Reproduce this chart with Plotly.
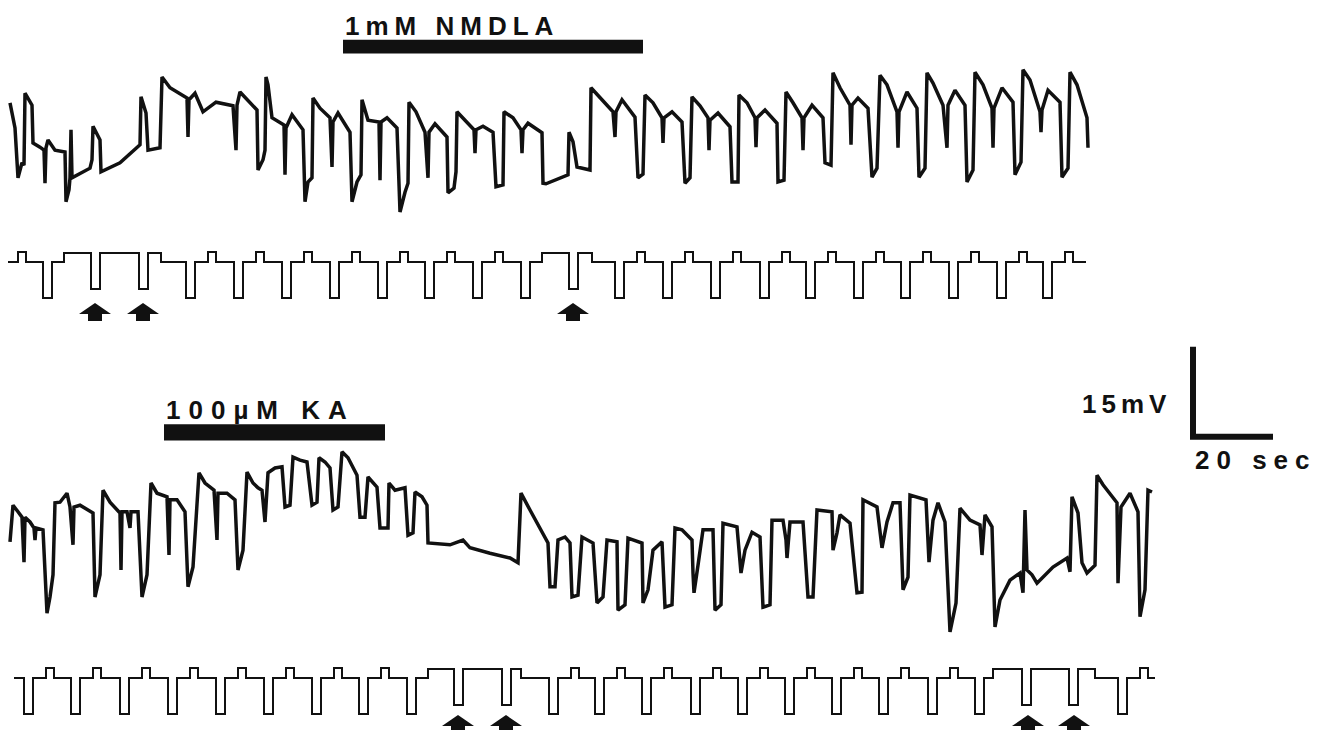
import plotly.graph_objects as go

# ---------------- data ----------------
# upper record: membrane potential (mV, relative) vs time (s)
TOP_T = [0, 1.25, 2.0, 3.0, 3.5, 3.75, 5.5, 5.75, 7.5, 8.5,
         8.75, 9.0, 9.5, 11.25, 13.75, 14.0, 14.75, 15.0, 15.25, 15.5,
         20.0, 20.5, 20.75, 22.5, 22.75, 27.5, 32.5, 32.75, 34.0, 34.5,
         37.5, 38.0, 40.0, 44.25, 44.5, 44.75, 46.25, 48.25, 51.5, 55.75,
         56.5, 56.75, 57.5, 61.75, 62.0, 63.25, 63.75, 64.0, 64.5, 65.5,
         68.5, 68.75, 69.0, 70.5, 73.25, 73.75, 74.5, 75.5, 75.75, 77.5,
         80.0, 80.5, 80.75, 82.0, 85.0, 85.5, 86.75, 87.75, 88.0, 89.5,
         92.25, 92.5, 92.75, 94.25, 96.75, 97.5, 98.75, 99.5, 99.75, 101.5,
         103.75, 104.5, 104.75, 106.25, 109.25, 109.5, 111.0, 111.5, 111.75, 114.25,
         116.0, 116.25, 116.5, 118.25, 120.75, 121.5, 123.25, 123.5, 125.75, 127.75,
         128.0, 128.25, 129.5, 133.0, 133.25, 134.0, 139.5, 139.75, 140.75, 141.75,
         145.0, 145.25, 147.5, 150.75, 151.25, 151.5, 153.0, 156.25, 157.0, 158.25,
         158.75, 160.75, 163.0, 163.25, 163.5, 165.5, 168.0, 168.75, 170.0, 170.5,
         172.5, 174.5, 174.75, 175.0, 177.0, 180.0, 180.5, 182.0, 182.25, 184.25,
         186.25, 186.5, 186.75, 188.75, 191.75, 192.0, 193.5, 194.0, 195.75, 198.0,
         198.25, 198.5, 200.5, 203.25, 203.75, 205.25, 205.75, 207.5, 210.0, 210.25,
         210.5, 212.0, 214.5, 215.5, 216.75, 217.5, 219.25, 221.75, 222.0, 222.25,
         224.25, 226.75, 227.25, 228.75, 229.25, 230.75, 233.25, 234.25, 234.5, 236.25,
         238.75, 239.25, 240.75, 241.25, 243.25, 245.5, 245.75, 246.0, 248.0, 250.75,
         251.25, 252.75, 253.25, 255.0, 257.5, 257.75, 258.0, 259.5, 262.5, 263.0,
         264.5, 265.0, 266.75, 269.25, 269.5]
TOP_MV = [16.2, 12.0, 3.7, 6.2, 5.8, 17.8, 15.8, 9.5, 8.8, 8.3,
          2.8, 8.7, 10.0, 8.3, 8.0, -0.3, 1.7, 3.7, 11.7, 3.7,
          5.3, 6.7, 12.3, 10.0, 4.7, 6.2, 9.2, 17.2, 14.5, 8.3,
          8.7, 20.5, 18.7, 17.0, 10.5, 16.7, 17.8, 14.7, 16.3, 15.7,
          8.3, 15.8, 18.0, 15.0, 5.0, 6.7, 8.3, 20.5, 19.2, 13.7,
          12.5, 4.2, 12.0, 14.2, 11.7, -0.3, 3.0, 3.7, 17.0, 15.3,
          13.7, 5.5, 13.0, 14.5, 11.3, -0.3, 3.0, 4.2, 16.7, 13.3,
          13.0, 3.3, 13.0, 13.7, 12.0, -2.0, 1.3, 2.8, 16.3, 14.7,
          11.3, 3.7, 11.3, 12.7, 10.5, 1.2, 2.0, 4.7, 14.7, 13.0,
          11.7, 7.8, 11.7, 12.3, 11.3, 2.2, 2.5, 14.7, 13.7, 11.7,
          7.8, 11.7, 12.8, 11.2, 2.8, 2.7, 4.2, 11.3, 9.7, 5.5,
          5.0, 18.7, 17.0, 14.7, 10.5, 14.7, 16.7, 13.8, 3.7, 4.3,
          17.5, 16.2, 13.7, 9.5, 13.7, 14.7, 13.0, 2.8, 3.7, 17.2,
          15.7, 13.7, 8.3, 13.3, 14.5, 12.2, 3.0, 3.0, 17.5, 16.2,
          13.7, 8.8, 13.7, 15.0, 12.8, 3.0, 3.3, 18.0, 16.2, 13.7,
          8.3, 13.7, 15.8, 13.7, 6.2, 5.8, 21.2, 18.7, 15.8, 9.2,
          15.8, 17.0, 15.3, 3.8, 5.3, 20.8, 19.2, 14.7, 8.7, 14.7,
          18.0, 15.3, 3.8, 5.3, 21.2, 19.5, 15.8, 8.7, 15.8, 18.3,
          15.8, 3.0, 5.0, 21.3, 19.2, 15.3, 8.7, 15.3, 18.7, 16.3,
          4.2, 6.3, 21.7, 20.0, 14.7, 11.3, 15.0, 18.3, 16.3, 3.8,
          5.3, 21.3, 19.2, 13.7, 8.7]

# lower record
BOT_T = [0, 0.75, 2.0, 3.0, 3.5, 3.75, 5.0, 6.0, 6.25, 6.5,
         8.25, 9.25, 10.0, 10.75, 11.25, 12.5, 14.25, 15.0, 15.75, 16.0,
         17.5, 20.75, 21.25, 22.5, 23.25, 25.0, 27.5, 27.75, 28.0, 29.25,
         30.0, 30.25, 32.0, 33.0, 34.25, 35.25, 36.75, 39.25, 39.75, 40.0,
         41.75, 43.75, 44.5, 45.75, 47.25, 48.75, 51.0, 51.75, 52.0, 54.25,
         56.25, 57.0, 58.25, 59.25, 60.75, 62.0, 63.0, 63.75, 64.5, 66.25,
         68.0, 68.75, 70.0, 70.75, 72.5, 74.25, 75.5, 76.75, 77.25, 78.75,
         80.0, 80.75, 82.0, 83.0, 84.5, 86.75, 87.5, 88.75, 89.5, 91.75,
         92.5, 94.5, 94.75, 96.25, 98.75, 99.5, 100.75, 101.25, 103.0, 104.25,
         104.5, 110.0, 113.25, 115.0, 120.0, 125.0, 127.0, 127.75, 130.0, 132.0,
         134.5, 135.0, 136.25, 137.0, 138.75, 140.0, 140.5, 142.0, 143.0, 145.75,
         146.75, 148.25, 149.25, 151.75, 152.0, 153.75, 154.5, 158.0, 158.25, 159.5,
         160.75, 163.0, 163.75, 165.5, 166.25, 168.0, 170.5, 170.75, 171.0, 172.0,
         173.25, 175.75, 176.25, 177.75, 178.25, 181.75, 182.5, 182.75, 183.75, 185.5,
         187.5, 188.25, 190.0, 190.5, 193.25, 194.0, 194.25, 195.0, 198.25, 199.5,
         200.75, 201.75, 205.5, 205.75, 206.75, 207.5, 210.0, 211.75, 213.0, 213.25,
         216.75, 217.5, 218.0, 219.25, 220.75, 222.5, 223.25, 224.5, 225.0, 229.0,
         229.75, 230.75, 232.0, 233.75, 235.0, 236.5, 237.5, 240.0, 242.5, 243.0,
         243.75, 245.5, 246.25, 247.5, 250.0, 252.5, 253.25, 253.75, 254.25, 255.5,
         256.75, 260.75, 264.25, 265.0, 265.5, 267.0, 268.0, 269.25, 271.25, 271.75,
         273.25, 276.75, 277.0, 277.75, 280.0, 282.0, 282.5, 283.75, 284.25, 284.5, 285.5]
BOT_MV = [9.7, 15.8, 14.7, 13.8, 6.3, 13.8, 13.0, 12.0, 10.0, 12.0,
          11.7, -2.2, 0.5, 4.2, 16.2, 16.3, 17.8, 15.5, 9.2, 15.5,
          15.8, 14.5, 0.5, 4.2, 18.3, 16.3, 14.5, 5.0, 14.7, 14.7,
          12.0, 14.7, 14.7, 0.5, 4.2, 19.5, 17.8, 17.2, 7.5, 16.7,
          16.7, 14.7, 2.2, 5.5, 21.2, 19.5, 18.3, 10.0, 17.8, 17.8,
          16.7, 5.0, 8.3, 21.3, 19.5, 18.7, 18.3, 13.0, 21.2, 22.0,
          22.2, 15.5, 15.8, 23.8, 23.3, 23.0, 15.8, 16.3, 23.7, 23.0,
          22.0, 15.0, 15.5, 24.7, 23.7, 20.8, 13.8, 13.8, 20.5, 18.8,
          12.0, 12.0, 19.5, 18.3, 18.7, 10.8, 11.2, 18.0, 17.2, 15.8,
          9.5, 9.2, 10.0, 8.7, 7.8, 7.0, 6.2, 17.8, 15.0, 12.5,
          9.5, 2.2, 2.2, 10.0, 10.5, 9.5, 0.5, 0.8, 10.5, 9.5,
          -0.5, 0.5, 10.0, 9.7, -1.7, -0.8, 10.3, 9.5, -0.5, 1.7,
          8.3, 9.7, -1.2, -0.8, 12.0, 11.7, 10.0, 4.5, 1.2, 5.8,
          11.7, 11.7, -1.7, -0.8, 12.8, 12.2, 7.2, 4.5, 8.3, 11.3,
          10.5, -1.2, -0.8, 13.3, 13.3, 10.0, 7.0, 13.0, 13.0, 0.5,
          0.5, 15.0, 14.7, 8.3, 11.2, 14.2, 12.8, 1.2, 1.3, 16.7,
          15.5, 11.7, 8.7, 13.0, 16.2, 16.2, 1.7, 3.8, 17.5, 16.7,
          6.3, 13.3, 16.2, 13.0, -5.3, -0.5, 15.3, 13.3, 12.5, 7.5,
          14.2, 12.2, -4.5, 0.0, 3.3, 4.5, 1.2, 15.0, 5.0, 4.2,
          2.8, 5.5, 7.0, 4.7, 17.2, 14.5, 6.2, 4.5, 5.8, 20.8,
          19.2, 16.2, 2.8, 15.5, 17.8, 14.7, -2.8, 1.7, 11.7, 18.3, 18.0]

# current-injection protocol (s): pulse onsets, held (depolarised) periods
STIM_TOP_PULSES = [8.25, 20.25, 32.25, 44.0, 56.0, 68.0, 80.0, 92.0, 103.75, 115.75,
                   127.75, 139.75, 151.25, 163.25, 175.25, 187.5, 199.0, 211.0,
                   222.75, 234.75, 246.75, 258.25]
STIM_TOP_LEAD_BUMPS = [2.0]
STIM_TOP_HELD = [[13.5, 37.75], [133.0, 145.5]]
STIM_TOP_SPAN = [-0.5, 269.0]

STIM_BOT_PULSES = [3.5, 15.25, 27.5, 39.5, 51.5, 63.5, 75.5, 87.25, 99.25, 111.0,
                   123.0, 134.75, 146.25, 158.0, 170.25, 182.0, 193.75, 205.5,
                   217.25, 229.5, 241.25, 253.0, 264.75, 277.0]
STIM_BOT_LEAD_BUMPS = []
STIM_BOT_HELD = [[104.5, 127.75], [245.75, 271.25]]
STIM_BOT_SPAN = [1.0, 286.25]

PULSE_DUR = 2.25      # s
BUMP_DELAY = 5.5      # s after pulse onset
BUMP_DUR = 2.0        # s
PULSE_AMP = 1.8       # nA (hyperpolarising)
BUMP_AMP = 0.5        # nA
HELD_AMP = 0.45       # nA

# arrows (s) marking the test pulses discussed
ARROWS_TOP_T = [21.25, 33.25, 140.75]
ARROWS_BOT_T = [112.0, 124.0, 254.5, 266.0]

# drug applications (s)
NMDLA_T = [83.25, 158.25]
KA_T = [38.5, 93.75]

# calibration
SCALE_T = 20   # s
SCALE_MV = 15  # mV

if len(TOP_T) != len(TOP_MV) or len(BOT_T) != len(BOT_MV):
    raise ValueError(f"length mismatch {len(TOP_T)} {len(TOP_MV)} {len(BOT_T)} {len(BOT_MV)}")

# ---------------- geometry (pixels) ----------------
W, H = 1330, 730
X0_PX = 10
PX_PER_S = 4.0
PX_PER_MV = 6.0
PX_PER_NA = 20.0
TOP_V_REF, TOP_S_REF = 200, 262
BOT_V_REF, BOT_S_REF = 600, 678
INK = "#111111"


def yrange(ref_px, px_per_unit):
    return [(ref_px - H) / px_per_unit, ref_px / px_per_unit]


def stim_wave(span, pulses, lead_bumps, held):
    t0, t1 = span
    bumps = list(lead_bumps) + [p + BUMP_DELAY for p in pulses]
    bumps = [b for b in bumps
             if b < t1 and not any(hs - 0.3 <= b <= he + 1.0 for hs, he in held)]
    edges = {t0, t1}
    for p in pulses:
        edges |= {p, p + PULSE_DUR}
    for b in bumps:
        edges |= {b, b + BUMP_DUR}
    for hs, he in held:
        edges |= {hs, he}
    edges = sorted(e for e in edges if t0 <= e <= t1)

    def level(t):
        lv = 0.0
        if any(hs <= t < he for hs, he in held):
            lv += HELD_AMP
        if any(b <= t < b + BUMP_DUR for b in bumps):
            lv += BUMP_AMP
        if any(p <= t < p + PULSE_DUR for p in pulses):
            lv -= PULSE_AMP
        return lv

    xs, ys = [], []
    for a, b in zip(edges[:-1], edges[1:]):
        lv = level((a + b) / 2)
        xs += [a, b]
        ys += [lv, lv]
    return xs, ys


fig = go.Figure()

fig.add_trace(go.Scatter(x=TOP_T, y=TOP_MV, mode="lines", xaxis="x", yaxis="y",
                         line=dict(color=INK, width=3.5)))
sx, sy = stim_wave(STIM_TOP_SPAN, STIM_TOP_PULSES, STIM_TOP_LEAD_BUMPS, STIM_TOP_HELD)
fig.add_trace(go.Scatter(x=sx, y=sy, mode="lines", xaxis="x", yaxis="y2",
                         line=dict(color=INK, width=2)))
fig.add_trace(go.Scatter(x=BOT_T, y=BOT_MV, mode="lines", xaxis="x", yaxis="y3",
                         line=dict(color=INK, width=3.5)))
sx, sy = stim_wave(STIM_BOT_SPAN, STIM_BOT_PULSES, STIM_BOT_LEAD_BUMPS, STIM_BOT_HELD)
fig.add_trace(go.Scatter(x=sx, y=sy, mode="lines", xaxis="x", yaxis="y4",
                         line=dict(color=INK, width=2)))

# calibration bars on the lower record's axes
SB_T0, SB_V0 = 295.75, 27.2
fig.add_trace(go.Scatter(x=[SB_T0, SB_T0, SB_T0 + SCALE_T],
                         y=[SB_V0 + SCALE_MV, SB_V0, SB_V0],
                         mode="lines", xaxis="x", yaxis="y3",
                         line=dict(color=INK, width=6)))

shapes = []
# drug bars
shapes.append(dict(type="rect", xref="x", yref="y", x0=NMDLA_T[0], x1=NMDLA_T[1],
                   y0=24.4, y1=26.7, fillcolor=INK, line=dict(width=0)))
shapes.append(dict(type="rect", xref="x", yref="y3", x0=KA_T[0], x1=KA_T[1],
                   y0=26.6, y1=29.3, fillcolor=INK, line=dict(width=0)))

ARROW_PATH = "M0,0 L16,-11 L7,-11 L7,-18 L-7,-18 L-7,-11 L-16,-11 Z"
for t in ARROWS_TOP_T:
    shapes.append(dict(type="path", xref="x", yref="y2", xsizemode="pixel",
                       ysizemode="pixel", xanchor=t, yanchor=-2.05,
                       path=ARROW_PATH, fillcolor=INK, line=dict(width=0)))
for t in ARROWS_BOT_T:
    shapes.append(dict(type="path", xref="x", yref="y4", xsizemode="pixel",
                       ysizemode="pixel", xanchor=t, yanchor=-1.85,
                       path=ARROW_PATH, fillcolor=INK, line=dict(width=0)))

FONT = dict(family="Liberation Sans, Arial, sans-serif", size=26, color=INK)


def spaced(s, px):
    return f'<span style="letter-spacing:{px}px">{s}</span>'


annotations = [
    dict(text=spaced("<b>1mM NMDLA</b>", 6), xref="x", yref="y", x=NMDLA_T[0], y=26.9,
         xanchor="left", yanchor="bottom", yshift=-4, showarrow=False, font=FONT),
    dict(text=spaced("<b>100µM KA</b>", 8), xref="x", yref="y3", x=KA_T[0], y=29.5,
         xanchor="left", yanchor="bottom", yshift=-4, showarrow=False, font=FONT),
    dict(text=spaced("<b>15mV</b>", 5), xref="x", yref="y3", x=SB_T0 - 5.0,
         y=SB_V0 + 5.5, xanchor="right", yanchor="middle", showarrow=False, font=FONT),
    dict(text=spaced("<b>20 sec</b>", 7), xref="x", yref="y3", x=SB_T0, y=SB_V0 - 1.0,
         xanchor="left", yanchor="top", showarrow=False, font=FONT),
]

axis_off = dict(visible=False, fixedrange=True)
fig.update_layout(
    width=W, height=H, margin=dict(l=0, r=0, t=0, b=0, pad=0),
    paper_bgcolor="white", plot_bgcolor="white", showlegend=False,
    xaxis=dict(range=[-X0_PX / PX_PER_S, (W - X0_PX) / PX_PER_S], domain=[0, 1], **axis_off),
    yaxis=dict(range=yrange(TOP_V_REF, PX_PER_MV), domain=[0, 1], **axis_off),
    yaxis2=dict(range=yrange(TOP_S_REF, PX_PER_NA), overlaying="y", **axis_off),
    yaxis3=dict(range=yrange(BOT_V_REF, PX_PER_MV), overlaying="y", **axis_off),
    yaxis4=dict(range=yrange(BOT_S_REF, PX_PER_NA), overlaying="y", **axis_off),
    shapes=shapes, annotations=annotations,
)

fig.write_html("out.html")
